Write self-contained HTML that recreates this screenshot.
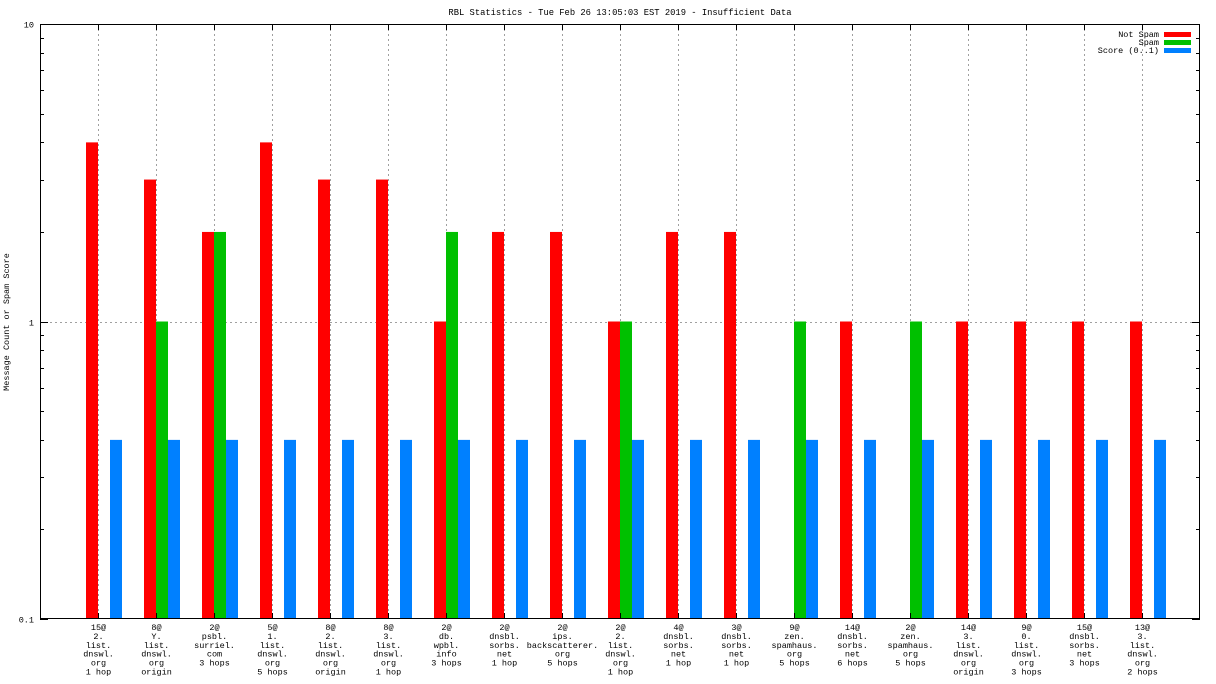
<!DOCTYPE html>
<html><head><meta charset="utf-8"><style>
body{margin:0;background:#fff;}
svg{display:block;font-family:"Liberation Mono",monospace;}
</style></head><body>
<svg id="chart" width="1216" height="684" viewBox="0 0 1216 684" xmlns="http://www.w3.org/2000/svg">
<rect width="1216" height="684" fill="#fff"/>
<text x="620" y="15" font-size="8.8" text-anchor="middle">RBL Statistics - Tue Feb 26 13:05:03 EST 2019 - Insufficient Data</text>
<text transform="translate(9,322) rotate(-90)" font-size="8.5" text-anchor="middle">Message Count or Spam Score</text>
<g id="grid"></g><g id="bars"></g><g id="axes"></g>
<g font-size="8.5">
<text x="1159" y="37" text-anchor="end">Not Spam</text>
<rect x="1164" y="32" width="27" height="5" fill="#ff0000"/>
<text x="1159" y="45" text-anchor="end">Spam</text>
<rect x="1164" y="40" width="27" height="5" fill="#00c000"/>
<text x="1159" y="53" text-anchor="end">Score (0..1)</text>
<rect x="1164" y="48" width="27" height="5" fill="#0080ff"/>
</g>
</svg>
<script>
const categories=[["15@","2.","list.","dnswl.","org","1 hop"],["8@","Y.","list.","dnswl.","org","origin"],["2@","psbl.","surriel.","com","3 hops"],["5@","1.","list.","dnswl.","org","5 hops"],["8@","2.","list.","dnswl.","org","origin"],["8@","3.","list.","dnswl.","org","1 hop"],["2@","db.","wpbl.","info","3 hops"],["2@","dnsbl.","sorbs.","net","1 hop"],["2@","ips.","backscatterer.","org","5 hops"],["2@","2.","list.","dnswl.","org","1 hop"],["4@","dnsbl.","sorbs.","net","1 hop"],["3@","dnsbl.","sorbs.","net","1 hop"],["9@","zen.","spamhaus.","org","5 hops"],["14@","dnsbl.","sorbs.","net","6 hops"],["2@","zen.","spamhaus.","org","5 hops"],["14@","3.","list.","dnswl.","org","origin"],["9@","0.","list.","dnswl.","org","3 hops"],["15@","dnsbl.","sorbs.","net","3 hops"],["13@","3.","list.","dnswl.","org","2 hops"]];
const notSpam=[4,3,2,4,3,3,1,2,2,1,2,2,0,1,0,1,1,1,1];
const spam=[0,1,2,0,0,0,2,0,0,1,0,0,1,0,1,0,0,0,0];
const score=[0.4,0.4,0.4,0.4,0.4,0.4,0.4,0.4,0.4,0.4,0.4,0.4,0.4,0.4,0.4,0.4,0.4,0.4,0.4];
const yTickLabels=["0.1","1","10"];
const yTickValues=[0.1,1,10];

const L=40,R=1200,T=24,B=619,NS="http://www.w3.org/2000/svg";
const xS=i=>L+(i+1)*(R-L)/(categories.length+1);
const yS=v=>B-(Math.log10(v)+1)/2*(B-T);
function mk(tag,attrs,parent){const e=document.createElementNS(NS,tag);for(const k in attrs)e.setAttribute(k,attrs[k]);parent.appendChild(e);return e;}
const grid=document.getElementById('grid'),bars=document.getElementById('bars'),axes=document.getElementById('axes');
// grid
categories.forEach((c,i)=>{const x=Math.round(xS(i))+0.5;
 const g=mk('line',{x1:x,x2:x,y1:T,y2:B,stroke:'#a0a0a0','stroke-dasharray':'2,3','stroke-width':1},grid);
 
 
});
{const y=Math.round(yS(1))+0.5;const g=mk('line',{x1:L,x2:R,y1:y,y2:y,stroke:'#a0a0a0','stroke-dasharray':'2,3'},grid);
 
 }
// bars
const bw=(R-L)/(categories.length+1)*12/58;
function drawSeries(arr,off,color,name){arr.forEach((v,i)=>{if(v<=0)return;const x=xS(i)+off*bw-bw/2;const y=yS(v);
 const r=mk('rect',{x:x,y:y,width:bw,height:B-y,fill:color},bars);
 
 });}
drawSeries(notSpam,-0.5,'#ff0000','not-spam');
drawSeries(spam,0.5,'#00c000','spam');
drawSeries(score,1.5,'#0080ff','score');
// axes
const fr=mk('rect',{x:L+0.5,y:T+0.5,width:R-L-1,height:B-T-1,fill:'none',stroke:'#000'},axes);


for(let d=0;d<2;d++)for(let m=2;m<=9;m++){const y=Math.round(yS(Math.pow(10,d-1)*m))+0.5;
 mk('line',{x1:L,x2:L+4,y1:y,y2:y,stroke:'#000'},axes);mk('line',{x1:R-4,x2:R,y1:y,y2:y,stroke:'#000'},axes);}
yTickValues.forEach((v,k)=>{const y=Math.round(yS(v))+0.5;
 mk('line',{x1:L,x2:L+8,y1:y,y2:y,stroke:'#000'},axes);mk('line',{x1:R-8,x2:R,y1:y,y2:y,stroke:'#000'},axes);
 const t=mk('text',{x:L-6,y:y+3,'font-size':'8.5','text-anchor':'end'},axes);t.textContent=yTickLabels[k];
 
 });
categories.forEach((c,i)=>{const x=Math.round(xS(i))+0.5;
 mk('line',{x1:x,x2:x,y1:T,y2:T+6,stroke:'#000'},axes);mk('line',{x1:x,x2:x,y1:B-6,y2:B,stroke:'#000'},axes);
 c.forEach((s,j)=>{const t=mk('text',{x:x,y:630+j*8.9,'font-size':'8.5','text-anchor':'middle'},axes);t.textContent=s;
  
  });});
</script>
</body></html>
